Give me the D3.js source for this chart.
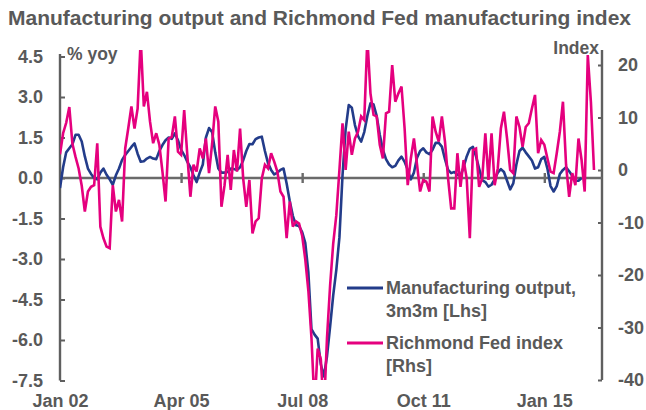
<!DOCTYPE html>
<html><head><meta charset="utf-8">
<script src="https://cdn.jsdelivr.net/npm/d3@7"></script>
<style>
body{margin:0;background:#fff;}
svg text{font-family:"Liberation Sans",Arial,sans-serif;font-weight:bold;}
</style></head><body>
<svg id="chart" width="646" height="410"></svg>
<script>
// ---- data ----
const titleText = "Manufacturing output and Richmond Fed manufacturing index";
const seriesNames = ["Manufacturing output,", "3m3m [Lhs]", "Richmond Fed index", "[Rhs]"];
const tickLabels = ["Jan 02", "Apr 05", "Jul 08", "Oct 11", "Jan 15"];
const tickMonths = [0, 39, 78, 117, 156]; // months since Jan 2002
const leftTicks = [4.5, 3.0, 1.5, 0.0, -1.5, -3.0, -4.5, -6.0, -7.5];
const rightTicks = [20, 10, 0, -10, -20, -30, -40];

// Manufacturing output, 3m3m (% yoy), monthly from Jan 2002
const manufacturing = [
 -0.37,0.4,0.95,1.1,1.25,1.6,1.6,1.35,0.8,0.35,
 0.15,0.0,-0.05,0.2,0.35,0.12,-0.05,-0.25,0.1,0.35,
 0.67,0.85,1.0,1.15,1.28,0.9,0.6,0.62,0.72,0.78,
 0.72,0.7,1.0,1.22,1.4,1.5,1.45,1.65,1.4,1.05,
 0.85,0.6,0.4,0.1,-0.15,0.2,0.5,1.5,1.85,1.7,
 0.95,0.35,0.2,0.2,0.22,0.35,0.33,0.3,0.4,0.65,
 1.0,1.26,1.25,1.44,1.5,1.53,1.0,0.55,0.3,0.13,
 0.2,0.3,0.35,-0.2,-0.85,-1.4,-1.75,-1.78,-2.0,-2.4,
 -3.5,-5.6,-5.8,-5.95,-6.9,-7.35,-6.6,-5.5,-4.35,-3.4,
 -2.2,0.1,1.8,2.7,2.6,1.96,1.55,1.35,1.7,2.3,
 2.77,2.72,2.3,1.6,1.05,0.7,0.5,0.4,0.45,0.65,
 0.79,0.6,0.3,-0.05,0.2,0.75,1.0,1.1,0.95,0.88,
 1.05,1.3,1.3,1.16,0.7,0.3,0.18,0.22,0.12,0.08,
 0.4,0.8,1.08,1.15,0.8,0.35,-0.08,-0.15,-0.32,-0.25,
 -0.05,0.2,0.33,0.22,-0.1,-0.42,-0.2,0.5,1.0,1.12,
 0.95,0.8,0.65,0.35,0.4,0.7,0.78,0.35,-0.3,-0.5,
 -0.3,0.15,0.3,0.4,0.25,0.08,-0.1,-0.1,0.0
];
// Richmond Fed manufacturing index, monthly from Jan 2002
const richmond = [
 3,7,9,12,5,2.5,0.3,-3,-7.9,-4.1,
 -3.2,-2.9,5.1,-10.8,-13,-14.6,-14.9,-2.9,-7.9,-5.7,
 -9.8,4.1,8,12.1,7.9,11.7,25,12.1,14.9,9.2,
 5.1,7.0,4.8,-0.3,-6.0,6.0,6.3,10.2,3.5,2.9,
 11.4,2.9,-5.1,1,-0.3,4.1,2.2,6.0,-0.6,5,
 12.1,9.2,-7.0,-2.9,2.9,-3.8,3.8,-0.3,7.9,-1.6,
 -7.0,-1.9,-12.1,-9.8,-9.2,-1.6,1.0,0.3,3.2,1.6,
 -0.3,-4.1,-5.1,-13,-6,-10.8,-9.8,-10.2,-12.5,-17,
 -23,-32,-45,-34,-36,-46,-32,-22,-14,-8.6,
 0,8.9,0,7.3,2.9,6.0,7.3,10.2,9.5,25,
 14.6,10.5,10.2,4.8,2.2,10.8,11.1,20,13,14.6,
 15.9,7.9,-2.9,2.2,6.0,1.0,-4.1,-1.9,-2.2,-4.1,
 10.2,7.3,5.4,10.2,5.4,-1.6,-7.3,-7.3,3.2,-3.2,
 1.9,-1.6,-13,3.8,4.1,-3.2,-1.6,7.0,-1.9,7.0,
 -2.9,0.3,7.9,11.1,6.0,0,-0.6,10.2,8.2,4.4,
 8.2,8.9,11.7,14.3,3.2,5.7,4.8,2.2,-0.3,-0.6,
 3.2,7.3,13,1.0,-5.1,-0.6,-2.9,6.0,1.9,-4.1,
 21.9,13,0
];

// ---- layout ----
const W = 646, H = 410;
const plotLeft = 60, plotRight = 602, plotTop = 50, plotBottom = 380;
const textColor = "#595959", axisColor = "#5f5f5f";
const blue = "#233C8A", pink = "#E5007E";

const svg = d3.select("#chart");

const x = d3.scaleLinear().domain([0, richmond.length - 1]).range([plotLeft, 594]);
const yL = d3.scaleLinear().domain([-7.5, 4.5]).range([380.5, 56.5]);
const yR = d3.scaleLinear().domain([-40, 20]).range([380, 65]);

// title
svg.append("text").attr("x", 8).attr("y", 25).attr("font-size", 21)
  .attr("fill", textColor).text(titleText);

// axis titles
svg.append("text").attr("x", 67).attr("y", 60).attr("font-size", 17.5)
  .attr("fill", textColor).text("% yoy");
svg.append("text").attr("x", 599).attr("y", 54).attr("font-size", 17.5)
  .attr("text-anchor", "end").attr("fill", textColor).text("Index");

function styleAxis(g) {
  g.attr("font-size", 18).attr("font-family", '"Liberation Sans",Arial,sans-serif')
   .attr("color", textColor);
  g.selectAll("line").attr("stroke", axisColor).attr("stroke-width", 2);
  g.selectAll(".domain").attr("stroke", axisColor).attr("stroke-width", 2.4);
}

// left axis
const gL = svg.append("g").attr("transform", `translate(${plotLeft},0)`)
  .call(d3.axisLeft(yL).tickValues(leftTicks).tickFormat(d => d.toFixed(1))
    .tickSizeInner(-5).tickSizeOuter(0).tickPadding(17));
gL.select(".domain").attr("d", `M0,${yL(-7.5)}V${plotTop + 4}`);
styleAxis(gL);

// right axis
const gR = svg.append("g").attr("transform", `translate(${plotRight},0)`)
  .call(d3.axisRight(yR).tickValues(rightTicks).tickFormat(d => String(d))
    .tickSizeInner(-4).tickSizeOuter(0).tickPadding(16));
gR.select(".domain").attr("d", `M0,${yR(-40)}V${plotTop}`);
styleAxis(gR);

// zero line with cross ticks
const gZ = svg.append("g").attr("transform", `translate(0,${yL(0)})`)
  .call(d3.axisBottom(x).tickValues(tickMonths.slice(1)).tickFormat("").tickSizeOuter(0));
gZ.select(".domain").attr("d", `M${plotLeft},0H${plotRight}`)
  .attr("stroke", "#6a6a6a").attr("stroke-width", 2.6);
gZ.selectAll(".tick line").attr("y1", -5).attr("y2", 5)
  .attr("stroke", "#6a6a6a").attr("stroke-width", 2.4);

// bottom labels
const gB = svg.append("g").attr("transform", `translate(0,${plotBottom})`)
  .call(d3.axisBottom(x).tickValues(tickMonths).tickFormat((d, i) => tickLabels[i])
    .tickSize(0).tickPadding(14));
gB.select(".domain").remove();
gB.attr("font-size", 18).attr("font-family", '"Liberation Sans",Arial,sans-serif')
  .attr("color", textColor);

// clip
svg.append("clipPath").attr("id", "plotclip").append("rect")
  .attr("x", plotLeft).attr("y", plotTop)
  .attr("width", plotRight - plotLeft).attr("height", plotBottom - plotTop);

const lineL = d3.line().x((d, i) => x(i)).y(d => yL(d));
const lineR = d3.line().x((d, i) => x(i)).y(d => yR(d));

const gLines = svg.append("g").attr("clip-path", "url(#plotclip)");
gLines.append("path").datum(manufacturing).attr("d", lineL)
  .attr("fill", "none").attr("stroke", blue).attr("stroke-width", 2.6)
  .attr("stroke-linejoin", "round");
gLines.append("path").datum(richmond).attr("d", lineR)
  .attr("fill", "none").attr("stroke", pink).attr("stroke-width", 2.6)
  .attr("stroke-linejoin", "miter").attr("stroke-miterlimit", 3);

// legend
const legend = [
  {color: blue, lines: [seriesNames[0], seriesNames[1]], y: 288},
  {color: pink, lines: [seriesNames[2], seriesNames[3]], y: 343}
];
legend.forEach(l => {
  svg.append("line").attr("x1", 347).attr("x2", 383).attr("y1", l.y).attr("y2", l.y)
    .attr("stroke", l.color).attr("stroke-width", 3);
  l.lines.forEach((t, i) => {
    svg.append("text").attr("x", 386).attr("y", l.y + 6 + i * 22.5)
      .attr("font-size", 18).attr("fill", textColor).text(t);
  });
});
</script>
</body></html>
